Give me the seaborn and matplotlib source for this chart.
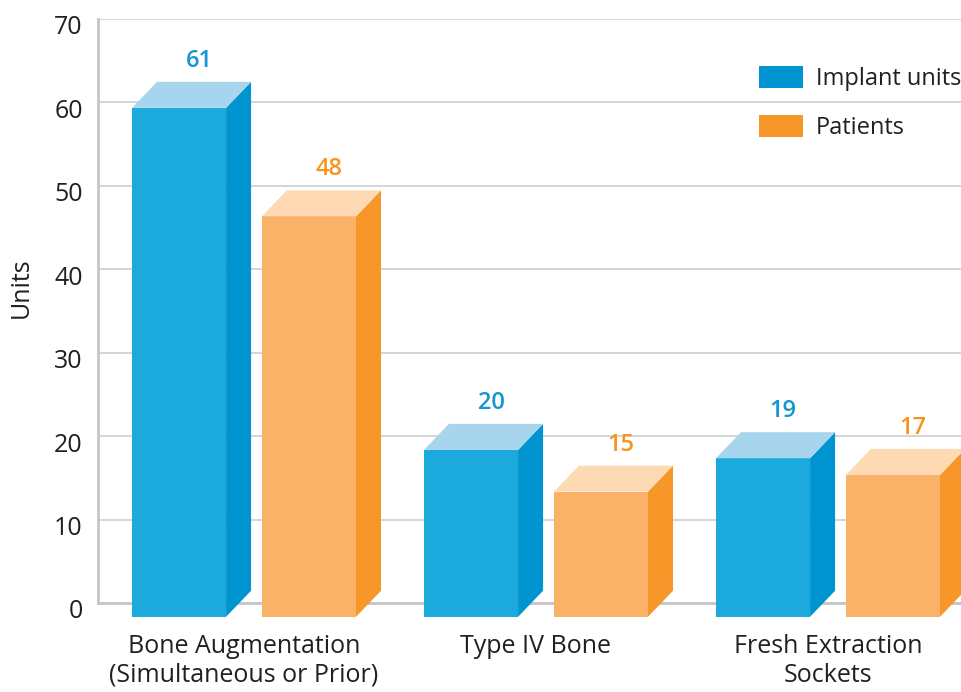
import matplotlib
matplotlib.use("Agg")
import matplotlib.pyplot as plt
import pandas as pd
import seaborn as sns
from matplotlib.patches import Polygon, Patch
from matplotlib.transforms import ScaledTranslation

# ---- data -------------------------------------------------------------
categories = ["Bone Augmentation\n(Simultaneous or Prior)", "Type IV Bone", "Fresh Extraction\nSockets"]
series = ["Implant units", "Patients"]
implant_units = [61, 20, 19]
patients = [48, 15, 17]
y_ticks = [0, 10, 20, 30, 40, 50, 60, 70]

# ---- colours ----------------------------------------------------------
front_colors = {"Implant units": "#1caadd", "Patients": "#f9b268"}
side_colors = {"Implant units": "#0094d0", "Patients": "#f7972a"}
top_colors = {"Implant units": "#a7d5ee", "Patients": "#fddab4"}
value_colors = {"Implant units": "#1396d1", "Patients": "#f7941d"}
text_color = "#231f20"
axis_color = "#c4c5c8"

sns.set_theme(style="white")
plt.rcParams["font.family"] = ["Open Sans", "DejaVu Sans"]

df = pd.DataFrame({
    "category": categories * 2,
    "series": [series[0]] * len(categories) + [series[1]] * len(categories),
    "value": implant_units + patients,
})

fig = plt.figure(figsize=(9.61, 6.92), dpi=100)
ax = fig.add_axes([98 / 961, 89 / 692, 876 / 961, 584 / 692])

sns.barplot(
    data=df, x="category", y="value", hue="series",
    order=categories, hue_order=series, palette=front_colors,
    width=0.89, gap=0.276, errorbar=None, legend=False,
    linewidth=0, saturation=1, ax=ax, zorder=3,
)

# pseudo-3D extrusion: front face dropped slightly, side and top faces added
DROP = 1.65   # front face sits this far below the baseline (data units)
DX = 0.0856   # depth, x (data units)
DY = 3.12     # depth, y (data units)

for container, name in zip(ax.containers, series):
    for bar in container:
        x0, w, h = bar.get_x(), bar.get_width(), bar.get_height()
        bar.set_y(-DROP)
        bar.set_clip_on(False)
        y_top = h - DROP
        side = Polygon([(x0 + w, -DROP), (x0 + w + DX, -DROP + DY),
                        (x0 + w + DX, y_top + DY), (x0 + w, y_top)],
                       closed=True, facecolor=side_colors[name], lw=0,
                       zorder=3, clip_on=False)
        top = Polygon([(x0, y_top), (x0 + DX, y_top + DY),
                       (x0 + w + DX, y_top + DY), (x0 + w, y_top)],
                      closed=True, facecolor=top_colors[name], lw=0,
                      zorder=3, clip_on=False)
        ax.add_patch(side)
        ax.add_patch(top)
        ax.text(x0 + w / 2 + DX * 0.8, y_top + DY + 2.5, f"{h:.0f}",
                ha="center", va="center", fontsize=17, fontweight="semibold",
                color=value_colors[name], zorder=4)

# ---- axes styling -----------------------------------------------------
ax.set_xlim(-0.5, 2.5)
ax.set_ylim(0, 70)
ax.set_yticks(y_ticks)
ax.set_yticklabels([str(t) for t in y_ticks], fontsize=18, color=text_color)
ax.tick_params(axis="y", length=0, pad=11)
ax.tick_params(axis="x", which="major", length=0, pad=22, labelsize=18,
               labelcolor=text_color)
for lbl in ax.get_xticklabels():
    lbl.set_linespacing(1.22)
ax.set_xticks([0.5, 1.5, 2.5], minor=True)
ax.tick_params(axis="x", which="minor", direction="in", length=9.5,
               width=1.5, color=axis_color)
ax.set_xlabel("")
ax.set_ylabel("Units", fontsize=18, color=text_color)
ax.yaxis.set_label_coords(-0.073, 0.54)

ax.grid(axis="y", color="#c9cacc", lw=1.1)
ax.set_axisbelow(True)
for side_name in ("top", "right"):
    ax.spines[side_name].set_visible(False)
for side_name in ("left", "bottom"):
    ax.spines[side_name].set_color(axis_color)
    ax.spines[side_name].set_linewidth(2)

# nudge y tick labels slightly downward
offset = ScaledTranslation(0, -6 / 100, fig.dpi_scale_trans)
for lbl in ax.get_yticklabels():
    lbl.set_transform(lbl.get_transform() + offset)

# ---- legend -----------------------------------------------------------
handles = [Patch(facecolor=side_colors[s], edgecolor="none", label=s) for s in series]
ax.legend(handles=handles, loc="upper left", bbox_to_anchor=(759 / 961, 1 - 66 / 692),
          bbox_transform=fig.transFigure, frameon=False, fontsize=17,
          handlelength=1.86, handleheight=1.05, handletextpad=0.55,
          labelspacing=1.0, borderpad=0, borderaxespad=0,
          labelcolor=text_color)

fig.savefig("out.png", dpi=100)
